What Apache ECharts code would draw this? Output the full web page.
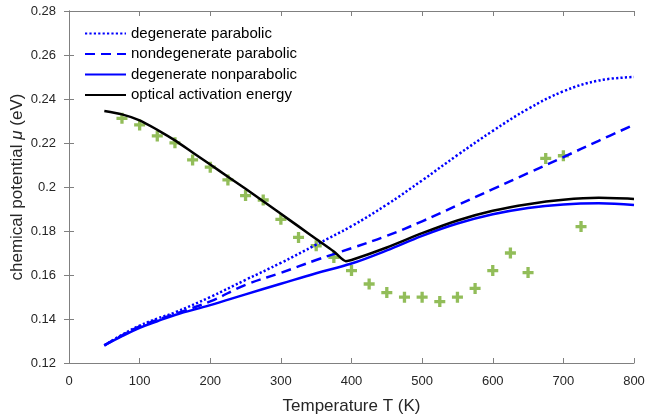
<!DOCTYPE html>
<html>
<head>
<meta charset="utf-8">
<script src="https://cdn.jsdelivr.net/npm/echarts@6/dist/echarts.min.js"></script>
<style>html,body{margin:0;padding:0;background:#fff}#c{width:647px;height:418px}</style>
</head>
<body>
<div id="c"></div>
<script>
// Temperatures (K) for the model curves
const tCurve = [50, 75, 100, 125, 150, 200, 250, 300, 350, 400, 450, 500, 550, 600, 650, 700, 750, 800];
const degParabolic = [0.1280, 0.1328, 0.1370, 0.1402, 0.1430, 0.1500, 0.1578, 0.1655, 0.1738, 0.1822, 0.1920, 0.2030, 0.2145, 0.2255, 0.2355, 0.2435, 0.2484, 0.2500];
const nondegParabolic = [0.1280, 0.1326, 0.1366, 0.1396, 0.1423, 0.1480, 0.1555, 0.1610, 0.1668, 0.1722, 0.1778, 0.1844, 0.1917, 0.1990, 0.2063, 0.2136, 0.2210, 0.2283];
const degNonparabolic = [0.1280, 0.1322, 0.1360, 0.1390, 0.1418, 0.1463, 0.1512, 0.1560, 0.1608, 0.1652, 0.1712, 0.1778, 0.1834, 0.1876, 0.1905, 0.1921, 0.1926, 0.1918];
// Optical activation energy curve
const tOptical = [50, 75, 100, 125, 150, 175, 200, 225, 250, 275, 300, 325, 350, 375, 392, 400, 450, 500, 550, 600, 650, 700, 750, 800];
const optical = [0.2345, 0.2330, 0.2303, 0.2260, 0.2212, 0.2157, 0.2102, 0.2047, 0.1992, 0.1935, 0.1878, 0.1821, 0.1764, 0.1707, 0.1663, 0.1668, 0.1725, 0.1790, 0.1848, 0.1892, 0.1922, 0.1942, 0.1951, 0.1946];
// Measured points
const tMeas = [75, 100, 125, 150, 175, 200, 225, 250, 275, 300, 325, 350, 375, 400, 425, 450, 475, 500, 525, 550, 575, 600, 625, 650, 675, 700, 725];
const meas = [0.2312, 0.2282, 0.2232, 0.2201, 0.2123, 0.2090, 0.2032, 0.1961, 0.1941, 0.1853, 0.1771, 0.1733, 0.1680, 0.1620, 0.1559, 0.1520, 0.1499, 0.1499, 0.1479, 0.1499, 0.1539, 0.1620, 0.1700, 0.1611, 0.2130, 0.2142, 0.1820];
const xTicks = [0, 100, 200, 300, 400, 500, 600, 700, 800];
const yTicks = [0.12, 0.14, 0.16, 0.18, 0.2, 0.22, 0.24, 0.26, 0.28];

const zip = (a, b) => a.map((v, i) => [v, b[i]]);
const FONT = 'Liberation Sans, Arial, sans-serif';
const axisCol = '#808080';
const txtCol = '#262626';

const chart = echarts.init(document.getElementById('c'), null, {renderer: 'canvas'});
const baseX = {
  type: 'value', min: xTicks[0], max: xTicks[xTicks.length - 1], interval: 100,
  axisLine: {show: true, lineStyle: {color: axisCol, width: 1}},
  axisTick: {show: true, inside: true, length: 5, lineStyle: {color: axisCol}},
  splitLine: {show: false}
};
const baseY = {
  type: 'value', min: yTicks[0], max: yTicks[yTicks.length - 1], interval: 0.02,
  axisLine: {show: true, lineStyle: {color: axisCol, width: 1}},
  axisTick: {show: true, inside: true, length: 5, lineStyle: {color: axisCol}},
  splitLine: {show: false}
};
chart.setOption({
  animation: false,
  backgroundColor: '#fff',
  grid: {left: 69, right: 13, top: 11, bottom: 55, containLabel: false, outerBoundsMode: 'none'},
  legend: {
    orient: 'vertical', left: 84, top: 26, padding: 0,
    itemWidth: 41, itemHeight: 14, itemGap: 5.5,
    itemStyle: {opacity: 0},
    textStyle: {fontFamily: FONT, fontSize: 15, color: '#000'},
    data: ['degenerate parabolic', 'nondegenerate parabolic', 'degenerate nonparabolic', 'optical activation energy']
  },
  xAxis: [
    Object.assign({}, baseX, {
      position: 'bottom',
      name: 'Temperature T (K)', nameLocation: 'middle', nameGap: 35, nameMoveOverlap: false,
      nameTextStyle: {fontFamily: FONT, fontSize: 17, color: txtCol},
      axisLabel: {margin: 12, fontFamily: FONT, fontSize: 13, color: txtCol}
    }),
    Object.assign({}, baseX, {position: 'top', axisLabel: {show: false}})
  ],
  yAxis: [
    Object.assign({}, baseY, {
      position: 'left',
      name: 'chemical potential {i|μ} (eV)', nameLocation: 'middle', nameGap: 43, nameMoveOverlap: false,
      nameTextStyle: {fontFamily: FONT, fontSize: 17, color: txtCol,
        rich: {i: {fontFamily: FONT, fontSize: 17, fontStyle: 'italic', color: txtCol}}},
      axisLabel: {margin: 13, fontFamily: FONT, fontSize: 13, color: txtCol,
        formatter: v => String(parseFloat(v.toFixed(2)))}
    }),
    Object.assign({}, baseY, {position: 'right', axisLabel: {show: false}})
  ],
  series: [
    {name: 'degenerate parabolic', type: 'line', data: zip(tCurve, degParabolic), smooth: 0.4,
      showSymbol: false, color: '#0000ff',
      lineStyle: {color: '#0000ff', width: 2.5, type: [2.2, 2.2], cap: 'butt'}},
    {name: 'nondegenerate parabolic', type: 'line', data: zip(tCurve, nondegParabolic), smooth: 0.4,
      showSymbol: false, color: '#0000ff',
      lineStyle: {color: '#0000ff', width: 2.5, type: [10, 6], cap: 'butt'}},
    {name: 'degenerate nonparabolic', type: 'line', data: zip(tCurve, degNonparabolic), smooth: 0.4,
      showSymbol: false, color: '#0000ff',
      lineStyle: {color: '#0000ff', width: 2.5}},
    {name: 'optical activation energy', type: 'line', data: zip(tOptical, optical), smooth: 0.25,
      showSymbol: false, color: '#000',
      lineStyle: {color: '#000', width: 2.5}},
    {name: 'measured', type: 'scatter', data: zip(tMeas, meas),
      symbol: 'path://M3.5,0H6.5V3.5H10V6.5H6.5V10H3.5V6.5H0V3.5H3.5Z', symbolSize: 11,
      itemStyle: {color: '#77ac30'}}
  ]
});
</script>
</body>
</html>
